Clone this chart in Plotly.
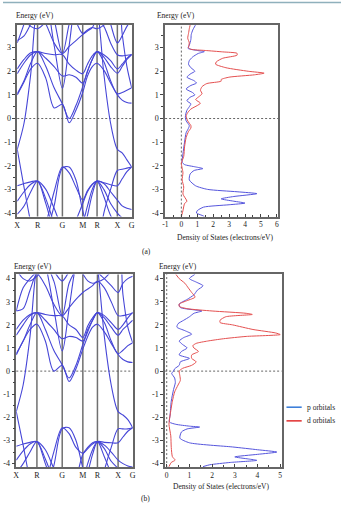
import plotly.graph_objects as go

# ---------------- data ----------------
k_labels = ["X", "R", "G", "M", "R", "X", "G"]
k_nodes = [0.0, 0.707, 1.573, 2.280, 2.780, 3.487, 3.987]

# sampling grid: each high-symmetry node plus the 1/3 and 2/3 points of every segment
k_grid = []
for i in range(len(k_nodes) - 1):
    a, b = k_nodes[i], k_nodes[i + 1]
    k_grid += [a, a + (b - a) / 3, a + 2 * (b - a) / 3]
k_grid.append(k_nodes[-1])

# band energies (eV) at the 19 grid points: X . . R . . G . . M . . R . . X . . G
bands_a = [
    # valence
    [-3.5, -3.1, -2.78, -2.65, -3.0, -3.8, -4.6, -4.8, -4.3, -3.6, -3.1, -2.8, -2.65, -3.0, -3.6, -4.0, -4.2, -4.3, -4.3],
    [-2.85, -2.75, -2.68, -2.65, -3.4, -4.4, -5.0, -5.0, -4.8, -4.4, -3.7, -3.0, -2.65, -2.72, -2.8, -2.85, -2.55, -2.25, -2.05],
    [-4.05, -3.7, -3.1, -2.65, -3.6, -4.8, -5.5, -5.5, -5.3, -4.9, -4.1, -3.2, -2.65, -3.3, -4.1, -4.5, -4.5, -4.4, -4.3],
    [-5.0, -5.0, -5.0, -5.0, -4.4, -3.1, -2.05, -2.3, -2.9, -3.45, -3.05, -2.78, -2.65, -2.75, -3.1, -3.45, -3.7, -3.8, -3.85],
    [-5.5, -5.5, -5.5, -5.5, -4.9, -3.7, -2.1, -2.05, -2.6, -3.9, -4.6, -5.0, -5.2, -5.3, -5.3, -5.3, -5.0, -4.6, -4.4],
    [-1.3, -2.9, -4.4, -5.5, -5.5, -5.5, -5.5, -5.5, -5.5, -5.5, -5.5, -5.5, -5.5, -4.0, -3.0, -2.2, -2.15, -2.1, -2.05],
    [-1.3, -0.2, 1.9, 4.8, 5.5, 5.5, 5.5, 5.5, 5.5, 5.5, 5.5, 5.5, 4.8, 1.9, -0.2, -1.3, -1.45, -1.75, -2.05],
    # conduction
    [1.0, 1.55, 2.1, 2.34, 1.7, 0.45, 0.6, -0.18, 0.35, 1.1, 1.8, 2.2, 2.34, 2.05, 1.5, 1.0, 0.78, 0.68, 0.65],
    [1.05, 1.6, 2.35, 2.83, 2.2, 1.3, 0.62, 0.0, 0.55, 1.35, 2.0, 2.5, 2.83, 2.4, 1.6, 1.05, 1.1, 1.2, 1.3],
    [5.5, 5.5, 5.5, 5.5, 5.0, 3.1, 1.28, 3.1, 5.0, 5.5, 5.5, 5.5, 5.5, 5.5, 5.5, 5.5, 3.6, 2.2, 1.3],
    [1.9, 2.35, 2.7, 2.83, 2.55, 2.2, 1.8, 1.85, 1.75, 1.5, 2.0, 2.5, 2.83, 2.6, 2.2, 1.92, 2.2, 2.5, 2.7],
    [2.1, 2.5, 2.78, 2.83, 2.75, 2.7, 2.7, 2.3, 2.05, 1.9, 2.3, 2.65, 2.83, 2.7, 2.45, 2.1, 2.3, 2.55, 2.72],
    [3.3, 3.5, 4.0, 4.5, 4.0, 3.2, 2.75, 3.05, 3.3, 3.55, 3.7, 3.85, 4.2, 3.9, 3.2, 2.7, 2.65, 2.68, 2.7],
    [3.2, 4.0, 5.0, 5.5, 5.5, 4.2, 2.75, 4.0, 5.0, 5.5, 5.5, 5.5, 5.5, 5.0, 4.0, 3.2, 3.5, 3.9, 4.2],
    [4.6, 4.2, 3.9, 3.8, 4.1, 4.6, 5.0, 4.6, 4.1, 3.6, 3.75, 3.85, 3.8, 3.95, 4.3, 4.6, 4.8, 4.6, 4.5],
]

bands_b = [
    # valence
    [-3.85, -3.45, -3.15, -3.05, -3.4, -4.2, -4.9, -5.0, -4.6, -3.6, -3.3, -3.1, -3.05, -3.35, -3.9, -4.2, -4.4, -4.5, -4.5],
    [-3.25, -3.15, -3.08, -3.05, -3.8, -4.7, -5.3, -5.3, -5.1, -4.7, -4.0, -3.4, -3.05, -3.08, -3.1, -3.1, -2.85, -2.6, -2.45],
    [-4.4, -4.0, -3.5, -3.05, -4.0, -5.0, -5.5, -5.5, -5.4, -5.1, -4.4, -3.6, -3.05, -3.7, -4.4, -4.8, -4.8, -4.7, -4.6],
    [-5.3, -5.3, -5.3, -5.3, -4.8, -3.5, -2.45, -2.7, -3.3, -3.55, -3.35, -3.15, -3.05, -3.2, -3.5, -3.85, -4.0, -4.1, -4.15],
    [-5.6, -5.6, -5.6, -5.6, -5.2, -4.1, -2.5, -2.45, -3.0, -4.2, -4.9, -5.3, -5.5, -5.5, -5.5, -5.5, -5.2, -4.9, -4.7],
    [-1.75, -3.2, -4.7, -5.6, -5.6, -5.6, -5.6, -5.6, -5.6, -5.6, -5.6, -5.6, -5.6, -4.3, -3.3, -2.5, -2.5, -2.5, -2.45],
    [-1.75, -0.6, 1.5, 4.5, 5.5, 5.5, 5.5, 5.5, 5.5, 5.5, 5.5, 5.5, 4.5, 1.5, -0.6, -1.75, -1.9, -2.1, -2.45],
    # conduction
    [0.7, 1.3, 1.8, 2.03, 1.3, 0.0, 0.25, -0.45, 0.1, 0.95, 1.5, 1.9, 2.03, 1.7, 1.2, 0.72, 0.5, 0.4, 0.37],
    [0.75, 1.3, 2.0, 2.53, 1.8, 0.9, 0.27, -0.3, 0.25, 1.15, 1.7, 2.2, 2.53, 2.1, 1.3, 0.75, 0.9, 1.1, 1.23],
    [5.5, 5.5, 5.5, 5.5, 4.6, 2.7, 0.87, 2.7, 4.6, 5.5, 5.5, 5.5, 5.5, 5.5, 5.5, 5.5, 3.3, 1.9, 1.23],
    [1.55, 2.0, 2.4, 2.53, 2.2, 1.8, 1.4, 1.5, 1.45, 1.3, 1.8, 2.2, 2.53, 2.3, 1.9, 1.55, 1.8, 2.0, 2.2],
    [1.8, 2.2, 2.45, 2.53, 2.45, 2.4, 2.38, 2.0, 1.8, 1.45, 1.95, 2.3, 2.53, 2.4, 2.1, 1.8, 2.0, 2.3, 2.55],
    [2.6, 2.7, 3.5, 4.2, 3.7, 2.9, 2.4, 2.75, 3.1, 3.4, 3.55, 3.7, 3.9, 3.6, 3.0, 2.4, 2.4, 2.45, 2.5],
    [2.6, 3.6, 4.0, 4.3, 4.6, 3.9, 2.4, 3.8, 4.4, 5.0, 5.0, 4.8, 4.3, 4.0, 3.7, 3.4, 3.8, 4.0, 4.1],
    [4.4, 4.0, 3.9, 4.1, 4.5, 4.3, 3.9, 4.3, 4.7, 4.2, 3.9, 3.8, 3.85, 4.0, 4.3, 4.5, 4.6, 4.3, 4.2],
]

# density of states, panel (a)
dos_a_p_E = [3.95, 3.75, 3.55, 3.35, 3.1, 2.97, 2.88, 2.83, 2.75, 2.6, 2.45, 2.3, 2.15, 2.0, 1.9, 1.75, 1.6, 1.5, 1.4, 1.25,
             1.1, 1.0, 0.9, 0.75, 0.62, 0.5, 0.35, 0.2, 0.05, -0.1, -0.3, -0.45, -0.6, -1.0, -1.5, -1.85, -1.95, -2.05,
             -2.12, -2.2, -2.35, -2.6, -2.85, -3.0, -3.1, -3.18, -3.3, -3.4, -3.5, -3.58, -3.65, -3.75, -3.9, -4.0, -4.1, -4.15]
dos_a_p_v = [0.88, 0.72, 0.62, 0.6, 0.5, 0.42, 1.0, 1.44, 1.05, 0.7, 0.5, 0.45, 0.6, 0.85, 0.6, 0.35, 0.8, 0.95, 0.6, 0.3,
             0.7, 0.85, 0.55, 0.35, 0.6, 0.5, 0.35, 0.28, 0.25, 0.3, 0.5, 0.42, 0.3, 0.2, 0.1, 0.05, 0.2, 0.9,
             1.35, 0.8, 0.55, 0.5, 0.9, 1.65, 3.5, 4.75, 3.3, 2.5, 3.3, 4.0, 3.0, 1.4, 1.0, 0.95, 1.3, 1.45]
dos_a_d_E = [3.95, 3.8, 3.6, 3.4, 3.2, 3.0, 2.93, 2.88, 2.82, 2.76, 2.68, 2.55, 2.4, 2.3, 2.15, 2.0, 1.92, 1.85, 1.75, 1.65,
             1.58, 1.48, 1.35, 1.2, 1.05, 0.95, 0.8, 0.65, 0.55, 0.4, 0.25, 0.1, -0.1, -0.3, -0.4, -0.55, -0.8, -1.2, -1.6,
             -1.9, -2.1, -2.3, -2.6, -2.9, -3.2, -3.5, -3.6, -3.9, -4.15]
dos_a_d_v = [0.55, 0.5, 0.45, 0.4, 0.5, 0.45, 0.6, 1.5, 2.6, 3.5, 3.5, 2.6, 2.2, 2.15, 2.8, 4.2, 5.2, 4.6, 3.0, 2.5,
             2.5, 1.6, 1.3, 1.2, 1.3, 1.15, 0.9, 1.2, 1.0, 0.6, 0.4, 0.3, 0.4, 0.6, 0.6, 0.45, 0.3, 0.2, 0.15,
             0.0, 0.05, 0.1, 0.05, 0.15, 0.1, 0.35, 0.2, 0.1, 0.0]

# density of states, panel (b)
dos_b_p_E = [4.19, 4.0, 3.85, 3.69, 3.5, 3.3, 3.1, 2.9, 2.75, 2.65, 2.6, 2.5, 2.35, 2.2, 2.05, 1.9, 1.75, 1.6, 1.45, 1.3,
             1.15, 1.0, 0.85, 0.7, 0.55, 0.4, 0.25, 0.1, 0.0, -0.1, -0.3, -0.5, -0.8, -1.3, -1.9, -2.2, -2.3, -2.38,
             -2.42, -2.5, -2.63, -2.9, -3.1, -3.28, -3.4, -3.5, -3.6, -3.71, -3.8, -3.86, -3.95, -4.05, -4.13]
dos_b_p_v = [1.25, 1.0, 1.3, 1.6, 1.35, 1.2, 0.9, 0.55, 0.6, 1.2, 1.55, 1.2, 1.0, 0.75, 0.5, 0.45, 0.8, 1.1, 0.75, 0.55,
             0.7, 0.9, 0.65, 0.55, 1.0, 0.6, 0.55, 0.35, 0.3, 0.22, 0.35, 0.38, 0.3, 0.2, 0.15, 0.12, 0.4, 1.0,
             1.45, 0.9, 0.65, 0.58, 1.0, 2.9, 4.0, 4.85, 4.0, 3.0, 3.6, 3.97, 2.8, 1.9, 1.6]
dos_b_d_E = [4.19, 4.0, 3.8, 3.6, 3.4, 3.2, 3.05, 2.9, 2.8, 2.7, 2.6, 2.5, 2.45, 2.35, 2.2, 2.1, 2.0, 1.8, 1.65, 1.58,
             1.5, 1.4, 1.3, 1.2, 1.1, 1.0, 0.85, 0.7, 0.55, 0.4, 0.25, 0.12, 0.0, -0.2, -0.4, -0.6, -0.9, -1.3, -1.9,
             -2.3, -2.8, -3.3, -3.7, -3.85, -3.95, -4.13]
dos_b_d_v = [0.4, 0.55, 0.8, 0.95, 1.1, 1.25, 0.9, 0.55, 0.55, 0.9, 2.0, 3.5, 3.77, 2.6, 2.35, 2.35, 2.9, 3.8, 4.8, 5.0,
             3.5, 2.5, 1.8, 1.3, 1.15, 1.2, 1.4, 1.1, 1.1, 1.3, 1.1, 0.7, 0.55, 0.58, 0.6, 0.5, 0.35, 0.25, 0.15,
             0.1, 0.18, 0.2, 0.25, 0.37, 0.2, 0.1]

legend_names = ["p orbitals", "d orbitals"]

# ---------------- style ----------------
W, H = 344, 505
BAND_C = "rgb(70,70,215)"
P_C = "rgb(85,85,220)"
D_C = "rgb(228,80,80)"
P_LEG = "rgb(50,120,215)"
D_LEG = "rgb(225,45,45)"
FRAME = "#666666"
FONT = "Liberation Serif"


def px(x):
    return x / W


def py(y):
    return 1 - y / H


fig = go.Figure()

panels = [
    dict(bands=bands_a, bx="x", by="y", dx="x2", dy="y2",
         dos=[(dos_a_p_E, dos_a_p_v, P_C), (dos_a_d_E, dos_a_d_v, D_C)]),
    dict(bands=bands_b, bx="x3", by="y3", dx="x4", dy="y4",
         dos=[(dos_b_p_E, dos_b_p_v, P_C), (dos_b_d_E, dos_b_d_v, D_C)]),
]

for p in panels:
    for band in p["bands"]:
        fig.add_trace(go.Scatter(x=k_grid, y=band, mode="lines", xaxis=p["bx"], yaxis=p["by"],
                                 line=dict(color=BAND_C, width=1.1, shape="spline", smoothing=0.9),
                                 showlegend=False, hoverinfo="skip"))
    for E, v, c in p["dos"]:
        fig.add_trace(go.Scatter(x=v, y=E, mode="lines", xaxis=p["dx"], yaxis=p["dy"],
                                 line=dict(color=c, width=1.0, shape="spline", smoothing=0.6),
                                 showlegend=False, hoverinfo="skip"))

tickfont = dict(family=FONT, size=8, color="#222")


def yax(dom, rng, anchor):
    vals = [v for v in range(-4, 5) if rng[0] <= v <= rng[1] + 0.05]
    return dict(domain=dom, range=rng, anchor=anchor, tickvals=vals, ticktext=[str(v) for v in vals],
                ticks="outside", ticklen=3, tickwidth=1, tickcolor="#444",
                minor=dict(dtick=0.5, ticks="outside", ticklen=2, tickcolor="#444"),
                showline=True, mirror=True, linecolor=FRAME, linewidth=1.5,
                showgrid=False, zeroline=False, tickfont=tickfont)


def kax(dom, anchor):
    return dict(domain=dom, range=[k_nodes[0], k_nodes[-1]], anchor=anchor, tickvals=k_nodes,
                ticktext=k_labels, ticks="", showline=True, mirror=True, linecolor=FRAME,
                linewidth=1.5, showgrid=False, zeroline=False, tickfont=tickfont)


def dax(dom, rng, anchor):
    vals = [v for v in range(-1, 7) if rng[0] - 0.05 <= v <= rng[1]]
    return dict(domain=dom, range=rng, anchor=anchor, tickvals=vals, ticktext=[str(v) for v in vals],
                ticks="inside", ticklen=3, tickwidth=1, tickcolor="#444",
                minor=dict(dtick=0.5, ticks="inside", ticklen=2, tickcolor="#444"),
                showline=True, mirror=True, linecolor=FRAME, linewidth=1.5,
                showgrid=False, zeroline=False, tickfont=dict(family=FONT, size=7.5, color="#222"))


ya_dom = [py(217), py(25)]
yb_dom = [py(468), py(275)]
fig.update_layout(
    xaxis=kax([px(14.5), px(131)], "y"),
    yaxis=yax(ya_dom, [-4.15, 3.96], "x"),
    xaxis2=dax([px(165), px(280)], [-1.02, 6.08], "y2"),
    yaxis2=yax(ya_dom, [-4.15, 3.96], "x2"),
    xaxis3=kax([px(13.5), px(132)], "y3"),
    yaxis3=yax(yb_dom, [-4.15, 4.18], "x3"),
    xaxis4=dax([px(165), px(283.5)], [-0.07, 5.06], "y4"),
    yaxis4=yax(yb_dom, [-4.15, 4.18], "x4"),
)

DASH = "2px,2px"
shapes = []
# vertical high-symmetry lines and zero-energy dashed lines
for xr, yr in [("x", "y"), ("x3", "y3")]:
    for kv in k_nodes[1:-1]:
        shapes.append(dict(type="line", xref=xr, yref=yr + " domain", x0=kv, x1=kv, y0=0, y1=1,
                           line=dict(color="#707070", width=1.5), layer="below"))
    shapes.append(dict(type="line", xref=xr + " domain", yref=yr, x0=0, x1=1, y0=0, y1=0,
                       line=dict(color="#555", width=0.9, dash=DASH), layer="below"))
for xr, yr in [("x2", "y2"), ("x4", "y4")]:
    shapes.append(dict(type="line", xref=xr + " domain", yref=yr, x0=0, x1=1, y0=0, y1=0,
                       line=dict(color="#555", width=0.9, dash=DASH), layer="below"))
    shapes.append(dict(type="line", xref=xr, yref=yr + " domain", x0=0, x1=0, y0=0, y1=1,
                       line=dict(color="#555", width=0.9, dash=DASH), layer="below"))
# top border line
shapes.append(dict(type="line", xref="paper", yref="paper", x0=0, x1=1, y0=py(2.5), y1=py(2.5),
                   line=dict(color="#8fb0bc", width=1.5)))
# legend samples
for i, c in enumerate([P_LEG, D_LEG]):
    yy = py(408 + 13.7 * i)
    shapes.append(dict(type="line", xref="paper", yref="paper", x0=px(288.5), x1=px(304), y0=yy, y1=yy,
                       line=dict(color=c, width=1.5)))
fig.update_layout(shapes=shapes)

ann = []


def text(x, y, s, size=8, xanchor="left"):
    ann.append(dict(x=px(x), y=py(y), xref="paper", yref="paper", text=s, showarrow=False,
                    xanchor=xanchor, yanchor="middle", font=dict(family=FONT, size=size, color="#222")))


text(11, 16, "Energy (eV)", 7.5)
text(155, 16, "Energy (eV)", 7.5)
text(9, 267, "Energy (eV)", 7.5)
text(157, 267, "Energy (eV)", 7.5)
text(226, 238, "Density of States (electrons/eV)", 7.5, "center")
text(222, 487, "Density of States (electrons/eV)", 7.5, "center")
text(146, 252, "(a)", 7.5, "center")
text(145, 499, "(b)", 7.5, "center")
for i, name in enumerate(legend_names):
    text(307, 408 + 13.7 * i, name, 7.5)
fig.update_layout(annotations=ann)

fig.update_layout(width=W, height=H, margin=dict(l=0, r=0, t=0, b=0),
                  paper_bgcolor="white", plot_bgcolor="white", showlegend=False,
                  font=dict(family=FONT))

fig.write_html("out.html")
